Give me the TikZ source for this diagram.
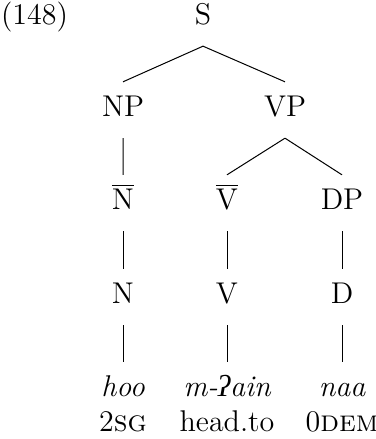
\documentclass[tikz,border=0pt]{standalone}
\usepackage{fontspec}
\newfontfamily\ipafont{Liberation Serif}
\usepackage{tikz}

\begin{document}
\begin{tikzpicture}[x=0.4pt, y=-0.4pt,
    every node/.style={font=\fontsize{12}{14}\selectfont, inner xsep=1pt, inner ysep=7.3pt,
      text height=1.5ex, text depth=.25ex},
    leaf/.style={font=\fontsize{12}{14}\selectfont\itshape}]
  \useasboundingbox (0,0) rectangle (375,439);
  % example number and root
  \node (ex) at (34.5,18) {(148)};
  \node (s) at (203,18) {S};
  % phrase level
  \node (np) at (123,110) {NP}; \node (vp) at (285,110) {VP};
  % bar level
  \node (nbar) at (123,203) {$\overline{\mbox{N}}$};
  \node (vbar) at (227,203) {$\overline{\mbox{V}}$};
  \node (dp) at (342,203) {DP};
  % heads
  \node (n) at (123,297) {N}; \node (v) at (227,297) {V}; \node (d) at (342,297) {D};
  % words and glosses
  \node[leaf] (hoo) at (123,390) {hoo};
  \node[leaf] (main) at (227,390) {m-{\ipafont\itshape\symbol{"0294}}ain};
  \node[leaf] (naa) at (342,390) {naa};
  \node (g1) at (123,425) {2\textsc{sg}};
  \node (g2) at (227,425) {head.to};
  \node (g3) at (342,425) {0\textsc{dem}};
  % branches
  \draw[thin] (s.south) -- (np.north) (s.south) -- (vp.north);
  \draw[thin] (np.south) -- (nbar.north) (vp.south) -- (vbar.north) (vp.south) -- (dp.north);
  \draw[thin] (nbar.south) -- (n.north) (vbar.south) -- (v.north) (dp.south) -- (d.north);
  \draw[thin] (n.south) -- (hoo.north) (v.south) -- (main.north) (d.south) -- (naa.north);
\end{tikzpicture}
\end{document}
